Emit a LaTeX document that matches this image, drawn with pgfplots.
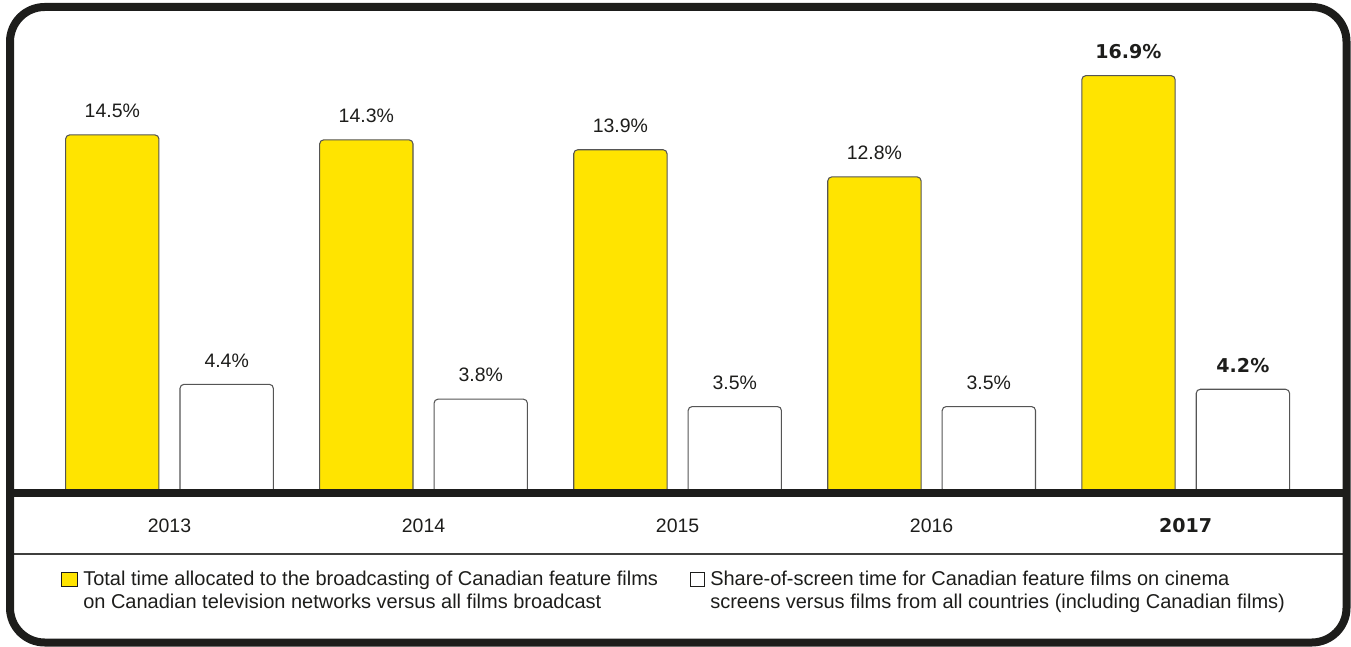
\documentclass[border=0pt]{standalone}
\usepackage{pgfplots}
\pgfplotsset{compat=1.18}
\usepackage{fontspec}
\setmainfont{Liberation Sans}
\newfontfamily\blackfont{DejaVu Sans}
\definecolor{cyellow}{HTML}{FFE400}
\definecolor{cdark}{HTML}{1D1D1B}
\definecolor{cedge}{HTML}{555555}
\newcommand\lblfont{\fontsize{14.6}{17}\selectfont}
\newcommand\boldlbl{\blackfont\bfseries\fontsize{14.3}{17}\selectfont}
\newcommand\legfont{\fontsize{15}{17}\selectfont}
\begin{document}
\begin{tikzpicture}
\useasboundingbox (0,0) rectangle (1013.25pt,484.5pt);
\begin{axis}[
  at={(5.25pt,114.75pt)}, anchor=south west,
  scale only axis, width=1002.75pt, height=364.5pt,
  xmin=-0.6396, xmax=4.623, ymin=0, ymax=19.68,
  clip=false,
  axis line style={draw=none},
  major tick length=0pt,
  ytick=\empty,
  xtick={0,1,2,3,4},
  xticklabels={2013,2014,2015,2016,{\boldlbl 2017}},
  xticklabel style={anchor=center, yshift=-24.4pt, font=\lblfont, text=cdark},
  ybar, bar width=70pt,
  point meta=explicit symbolic,
  nodes near coords,
  every node near coord/.append style={anchor=center, yshift=18pt, font=\lblfont, text=cdark},
]
\addplot[fill=cyellow, draw=cedge, line width=0.8pt, rounded corners=3pt, bar shift=-42.9pt]
  coordinates {(0,14.5) [14.5\%] (1,14.3) [14.3\%] (2,13.9) [13.9\%] (3,12.8) [12.8\%] (4,16.9) [{\boldlbl 16.9\%}]};
\addplot[fill=white, draw=cedge, line width=0.8pt, rounded corners=3pt, bar shift=42.9pt]
  coordinates {(0,4.4) [4.4\%] (1,3.8) [3.8\%] (2,3.5) [3.5\%] (3,3.5) [3.5\%] (4,4.2) [{\boldlbl 4.2\%}]};
\end{axis}
% baseline band and separator
\draw[cdark, line width=6pt] (10.5pt,114.75pt) -- (1007.25pt,114.75pt);
\draw[cdark!85, line width=1pt] (10.5pt,69pt) -- (1007.25pt,69pt);
% legend
\draw[fill=cyellow, draw=cdark, line width=0.7pt] (45.75pt,45pt) rectangle (57.75pt,55.5pt);
\node[anchor=base west, inner sep=0pt, font=\legfont, text=cdark] at (62.25pt,45.75pt) {Total time allocated to the broadcasting of Canadian feature films};
\node[anchor=base west, inner sep=0pt, font=\legfont, text=cdark] at (62.25pt,27.98pt) {on Canadian television networks versus all films broadcast};
\draw[fill=white, draw=cdark, line width=0.7pt] (517.5pt,45pt) rectangle (528pt,55.5pt);
\node[anchor=base west, inner sep=0pt, font=\legfont, text=cdark] at (532.5pt,45.75pt) {Share-of-screen time for Canadian feature films on cinema};
\node[anchor=base west, inner sep=0pt, font=\legfont, text=cdark] at (532.5pt,27.98pt) {screens versus films from all countries (including Canadian films)};
% outer frame
\draw[cdark, line width=6pt, rounded corners=26pt] (7.5pt,2.625pt) rectangle (1009.875pt,479.25pt);
\end{tikzpicture}
\end{document}
